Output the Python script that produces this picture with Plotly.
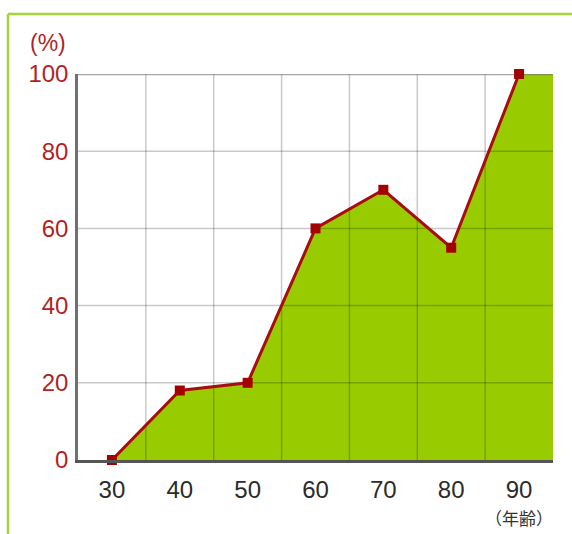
import plotly.graph_objects as go

# Share (%) by age
ages = [30, 40, 50, 60, 70, 80, 90]
values = [0, 18, 20, 60, 70, 55, 100]
age_ticks = ["30", "40", "50", "60", "70", "80", "90"]
y_ticks = [0, 20, 40, 60, 80, 100]

step = ages[1] - ages[0]
x_lo, x_hi = ages[0] - step / 2, ages[-1] + step / 2
y_lo, y_hi = y_ticks[0], y_ticks[-1]

W, H = 572, 534
M = dict(l=78, r=19, t=74, b=74)
pw, ph = W - M["l"] - M["r"], H - M["t"] - M["b"]

RED = "#a80c10"
LABEL_RED = "#b21f27"
FILL = "#99cc00"

fig = go.Figure()

# filled area, carried flat to the right edge of the plot
fig.add_trace(go.Scatter(
    x=ages + [x_hi], y=values + [values[-1]],
    mode="lines", line=dict(width=0, color=FILL),
    fill="tozeroy", fillcolor=FILL, hoverinfo="skip", showlegend=False,
))

# grid drawn over the fill so it shows through darker
gx, gy = [], []
for k in range(len(ages) + 1):
    xv = x_lo + k * step
    if x_lo < xv < x_hi:
        gx += [xv, xv, None]
        gy += [y_lo, y_hi, None]
for yv in y_ticks[1:-1]:
    gx += [x_lo, x_hi, None]
    gy += [yv, yv, None]
fig.add_trace(go.Scatter(
    x=gx, y=gy, mode="lines",
    line=dict(color="rgba(0,0,0,0.21)", width=1.5),
    hoverinfo="skip", showlegend=False,
))
# top border of the plot frame
fig.add_trace(go.Scatter(
    x=[x_lo, x_hi], y=[y_hi, y_hi], mode="lines",
    line=dict(color="rgba(110,110,110,0.6)", width=2.5),
    hoverinfo="skip", showlegend=False,
))

# data line with square markers
fig.add_trace(go.Scatter(
    x=ages, y=values, mode="lines+markers",
    line=dict(color=RED, width=3),
    marker=dict(symbol="square", size=10, color="#a30000"),
    cliponaxis=False, showlegend=False,
))

font = "Liberation Sans, Arial, sans-serif"

fig.update_xaxes(
    range=[x_lo, x_hi], tickvals=ages, ticktext=age_ticks,
    showgrid=False, zeroline=False, ticks="",
    showline=True, linecolor="#555", linewidth=2.5,
    tickfont=dict(family=font, size=24, color="#2b2b2b"),
    ticklabelstandoff=6, fixedrange=True,
)
fig.update_yaxes(
    range=[y_lo, y_hi], tickvals=y_ticks,
    showgrid=False, zeroline=False, ticks="",
    showline=True, linecolor="#707070", linewidth=2.5,
    tickfont=dict(family=font, size=24, color=LABEL_RED),
    ticklabelstandoff=2, fixedrange=True,
)

# lime-green frame along the top and left edges of the card
fx = (8 - M["l"]) / pw
fy = (H - M["b"] - 14) / ph
fig.add_shape(type="line", xref="paper", yref="paper",
              x0=fx, x1=1.2, y0=fy, y1=fy,
              line=dict(color="#a6d43a", width=2.5))
fig.add_shape(type="line", xref="paper", yref="paper",
              x0=fx, x1=fx, y0=fy, y1=-0.3,
              line=dict(color="#a6d43a", width=2.5))

fig.add_annotation(
    text="(%)", xref="paper", yref="paper",
    x=(48 - M["l"]) / pw, y=(H - M["b"] - 43) / ph,
    xanchor="center", yanchor="middle", showarrow=False,
    font=dict(family=font, size=23, color=LABEL_RED),
)
fig.add_annotation(
    text="（年齢）", xref="x", yref="paper",
    x=ages[-1], y=(H - M["b"] - 517) / ph,
    xanchor="center", yanchor="middle", showarrow=False,
    font=dict(family="Noto Sans CJK JP, sans-serif", size=17, color="#333"),
)

fig.update_layout(
    width=W, height=H, margin=M,
    paper_bgcolor="white", plot_bgcolor="white",
    showlegend=False,
)

fig.write_html("out.html", config={"displayModeBar": False})
